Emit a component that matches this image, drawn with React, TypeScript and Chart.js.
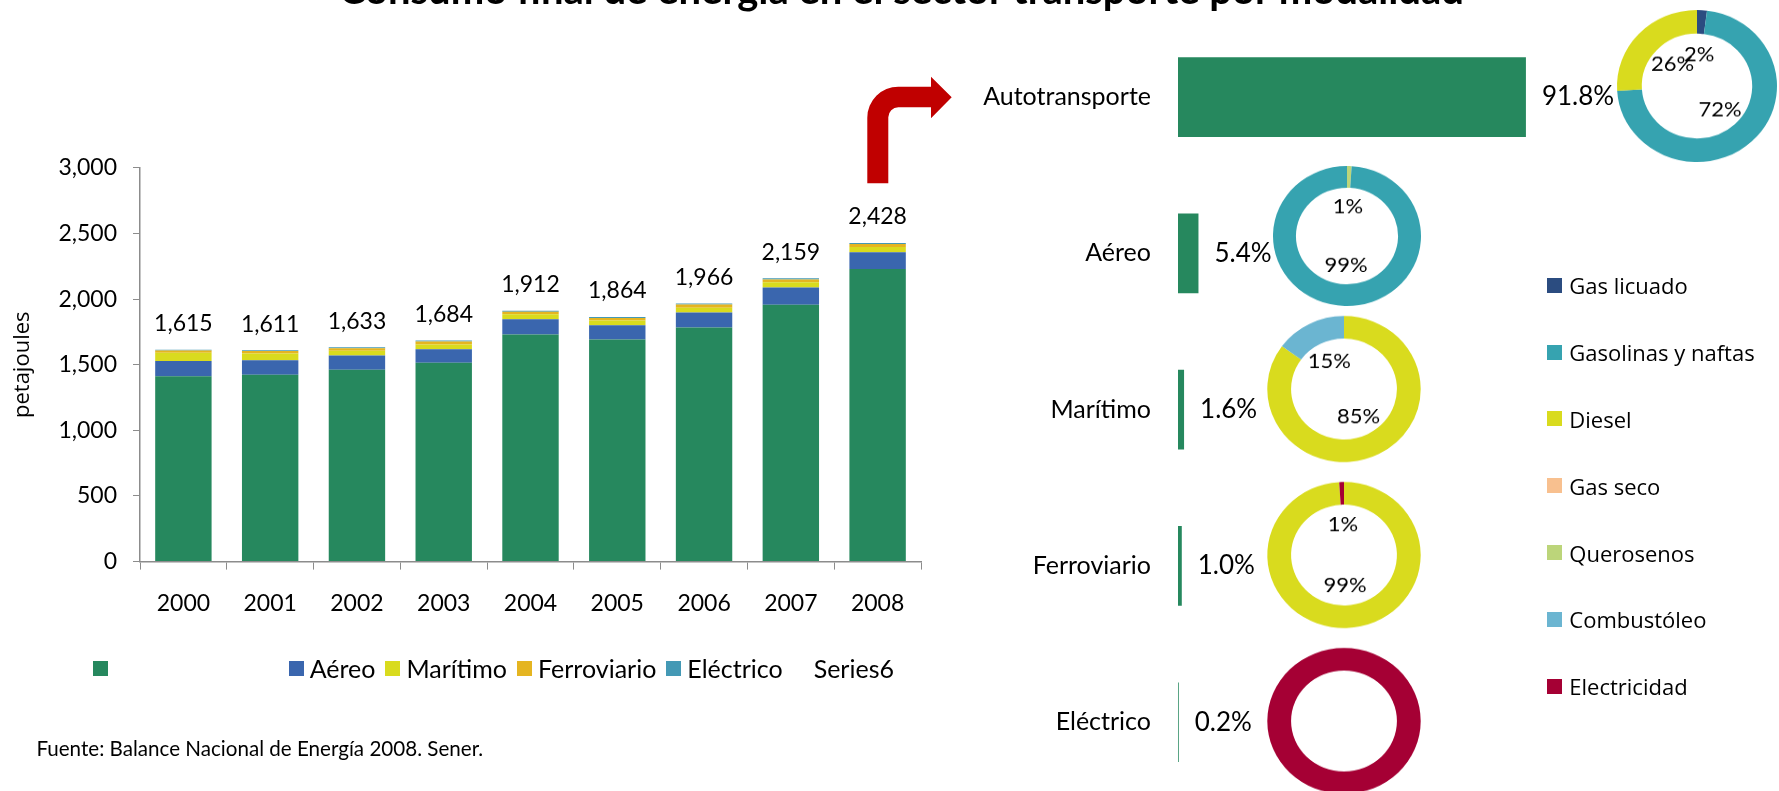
import React, { useEffect, useRef } from "react";
import { Chart, registerables } from "chart.js";

Chart.register(...registerables);
Chart.defaults.font.family = "Lato";

// ---------- Data ----------
const TITLE = "Consumo final de energía en el sector transporte por modalidad";
const SOURCE = "Fuente: Balance Nacional de Energía 2008. Sener.";
const Y_TITLE = "petajoules";

const years = ["2000", "2001", "2002", "2003", "2004", "2005", "2006", "2007", "2008"];
const autotransporte = [1412, 1424, 1462, 1515, 1730, 1692, 1783, 1957, 2229];
const aereo = [116, 111, 109, 104, 116, 109, 116, 131, 129];
const maritimo = [63, 51, 35, 35, 38, 37, 35, 41, 40];
const ferroviario = [17, 18, 20, 23, 20, 18, 26, 20, 23];
const electrico = [7, 7, 7, 7, 8, 8, 6, 10, 7];
const totales = [1615, 1611, 1633, 1684, 1912, 1864, 1966, 2159, 2428];
const yMax = 3000;
const yStep = 500;

const seriesNames = ["", "Aéreo", "Marítimo", "Ferroviario", "Eléctrico", "Series6"];
const seriesColors = ["#26885E", "#3A66AE", "#D9DB1E", "#E5B521", "#4499B5", "rgba(0,0,0,0)"];

const modalidades = ["Autotransporte", "Aéreo", "Marítimo", "Ferroviario", "Eléctrico"];
const participacion = [91.8, 5.4, 1.6, 1.0, 0.2];

const combustibles = ["Gas licuado", "Gasolinas y naftas", "Diesel", "Gas seco", "Querosenos", "Combustóleo", "Electricidad"];
const combustibleColors = ["#2B4C80", "#36A3B0", "#D9DB1E", "#F8C08F", "#BCD57A", "#6BB5D1", "#A50034"];

const autoFuels = ["Gas licuado", "Gasolinas y naftas", "Diesel"];
const autoShares = [2, 72, 26];
const aereoFuels = ["Querosenos", "Gasolinas y naftas"];
const aereoShares = [1, 99];
const maritimoFuels = ["Diesel", "Combustóleo"];
const maritimoShares = [85, 15];
const ferroFuels = ["Diesel", "Electricidad"];
const ferroShares = [99, 1];
const electricoFuels = ["Electricidad"];
const electricoShares = [100];

const AXIS = "#8c8c8c";

// ---------- Stacked bar chart ----------
function StackedBars() {
  const ref = useRef<HTMLCanvasElement>(null);
  useEffect(() => {
    const seriesData = [autotransporte, aereo, maritimo, ferroviario, electrico];
    const totalsPlugin = {
      id: "totalsLabels",
      afterDatasetsDraw(chart: any) {
        const idx = chart.data.datasets.findIndex((d: any) => d.label === "Series6");
        const meta = chart.getDatasetMeta(idx);
        const ctx = chart.ctx;
        ctx.save();
        ctx.font = "23px Lato";
        ctx.fillStyle = "#000";
        ctx.textAlign = "center";
        ctx.textBaseline = "middle";
        meta.data.forEach((pt: any, i: number) => {
          ctx.fillText(totales[i].toLocaleString("en-US"), pt.x, pt.y - 26);
        });
        ctx.restore();
      },
    };
    const chart = new Chart(ref.current!, {
      type: "bar",
      data: {
        labels: years,
        datasets: [
          ...seriesData.map((d, i) => ({
            type: "bar" as const,
            label: seriesNames[i],
            data: d,
            backgroundColor: seriesColors[i],
            borderWidth: 0,
            categoryPercentage: 0.65,
            barPercentage: 1,
            stack: "modos",
          })),
          {
            type: "line" as const,
            label: "Series6",
            data: totales,
            showLine: false,
            pointRadius: 0,
            borderWidth: 0,
            backgroundColor: seriesColors[5],
            borderColor: seriesColors[5],
            stack: "series6",
          },
        ] as any,
      },
      options: {
        animation: false,
        responsive: false,
        layout: { padding: { top: 37.9, right: 19, bottom: 0, left: 0 } },
        plugins: { legend: { display: false }, tooltip: { enabled: false } },
        scales: {
          x: {
            stacked: true,
            grid: { display: true, drawOnChartArea: false, drawTicks: true, tickLength: 8, color: AXIS, offset: true },
            border: { display: true, color: AXIS, width: 1.5 },
            ticks: { color: "#000", font: { family: "Lato", size: 23 }, padding: 20 },
            afterFit: (s: any) => { s.height = 68.4; },
          },
          y: {
            stacked: true,
            min: 0,
            max: yMax,
            ticks: {
              stepSize: yStep,
              color: "#000",
              font: { family: "Lato", size: 23 },
              padding: 16,
              callback: (v: any) => Number(v).toLocaleString("en-US"),
            },
            grid: { display: true, drawOnChartArea: false, drawTicks: true, tickLength: 7, color: AXIS },
            border: { display: true, color: AXIS, width: 1.5 },
            title: {
              display: true,
              text: Y_TITLE,
              color: "#000",
              font: { family: "Open Sans", size: 22 },
              padding: { top: 10, bottom: 0 },
            },
            afterFit: (s: any) => { s.width = 140; },
          },
        },
      } as any,
      plugins: [totalsPlugin],
    });
    return () => chart.destroy();
  }, []);
  return (
    <canvas
      ref={ref}
      width={940}
      height={500}
      style={{ position: "absolute", left: 0, top: 130, width: 940, height: 500 }}
    />
  );
}

// ---------- Share bar chart ----------
function ShareBars() {
  const ref = useRef<HTMLCanvasElement>(null);
  useEffect(() => {
    const valuePlugin = {
      id: "shareLabels",
      afterDatasetsDraw(chart: any) {
        const meta = chart.getDatasetMeta(0);
        const ctx = chart.ctx;
        ctx.save();
        ctx.font = "26px Lato";
        ctx.fillStyle = "#000";
        ctx.textAlign = "left";
        ctx.textBaseline = "middle";
        meta.data.forEach((bar: any, i: number) => {
          ctx.fillText(participacion[i].toFixed(1) + "%", bar.x + 16, bar.y);
        });
        ctx.restore();
      },
    };
    const chart = new Chart(ref.current!, {
      type: "bar",
      data: {
        labels: modalidades,
        datasets: [
          {
            label: "Participación",
            data: participacion,
            backgroundColor: seriesColors[0],
            borderWidth: 0,
            categoryPercentage: 0.51,
            barPercentage: 1,
          },
        ],
      },
      options: {
        indexAxis: "y",
        animation: false,
        responsive: false,
        layout: { padding: { top: 18.9, right: 103, bottom: 19.6, left: 0 } },
        plugins: { legend: { display: false }, tooltip: { enabled: false } },
        scales: {
          x: { display: false, min: 0, max: 100 },
          y: {
            grid: { display: true, drawOnChartArea: false, drawTicks: true, tickLength: 27, color: "rgba(0,0,0,0)" },
            border: { display: false },
            ticks: { color: "#000", font: { family: "Lato", size: 25 }, padding: 0 },
            afterFit: (s: any) => { s.width = 278; },
          },
        },
      } as any,
      plugins: [valuePlugin],
    });
    return () => chart.destroy();
  }, []);
  return (
    <canvas
      ref={ref}
      width={760}
      height={820}
      style={{ position: "absolute", left: 900, top: 0, width: 760, height: 820 }}
    />
  );
}

// ---------- Doughnuts ----------
type DonutProps = {
  names: string[];
  shares: number[];
  cx: number;
  cy: number;
  rx: number;
  ry: number;
  showLabels: boolean;
};

function Donut({ names, shares, cx, cy, rx, ry, showLabels }: DonutProps) {
  const ref = useRef<HTMLCanvasElement>(null);
  const size = Math.ceil(rx * 2 + 6);
  useEffect(() => {
    const labelPlugin = {
      id: "donutLabels",
      afterDatasetsDraw(chart: any) {
        if (!showLabels) return;
        const meta = chart.getDatasetMeta(0);
        const ctx = chart.ctx;
        ctx.save();
        ctx.font = "22px Lato";
        ctx.fillStyle = "#000";
        ctx.textAlign = "center";
        ctx.textBaseline = "middle";
        meta.data.forEach((arc: any, i: number) => {
          const mid = (arc.startAngle + arc.endAngle) / 2;
          const r = arc.outerRadius * 0.42;
          ctx.fillText(shares[i] + "%", arc.x + Math.cos(mid) * r, arc.y + Math.sin(mid) * r);
        });
        ctx.restore();
      },
    };
    const chart = new Chart(ref.current!, {
      type: "doughnut",
      data: {
        labels: names,
        datasets: [
          {
            data: shares,
            backgroundColor: names.map((n) => combustibleColors[combustibles.indexOf(n)]),
            borderWidth: 0,
            hoverOffset: 0,
            spacing: 0,
          },
        ],
      },
      options: {
        animation: false,
        responsive: false,
        radius: rx,
        cutout: "69%",
        layout: { padding: 0 },
        plugins: { legend: { display: false }, tooltip: { enabled: false } },
      } as any,
      plugins: [labelPlugin],
    });
    return () => chart.destroy();
  }, []);
  return (
    <canvas
      ref={ref}
      width={size}
      height={size}
      style={{
        position: "absolute",
        left: cx - size / 2,
        top: cy - size / 2,
        width: size,
        height: size,
        transform: `scaleY(${ry / rx})`,
      }}
    />
  );
}

// ---------- Arrow ----------
function Arrow() {
  return (
    <svg
      width={1779}
      height={791}
      style={{ position: "absolute", left: 0, top: 0, pointerEvents: "none" }}
    >
      <path
        d="M 867.3 183.3 L 867.3 117.7 A 31 31 0 0 1 898.3 86.7 L 931 86.7 L 931 76.7 L 951.7 97.3 L 931 118.3 L 931 107.3 L 898.3 107.3 A 10 10 0 0 0 888.3 117.3 L 888.3 183.3 Z"
        fill="#C00000"
      />
    </svg>
  );
}

export default function App() {
  return (
    <div
      style={{
        position: "fixed",
        left: 0,
        top: 0,
        width: 1779,
        height: 791,
        overflow: "hidden",
        background: "#fff",
        fontFamily: "Lato",
        color: "#000",
      }}
    >
      <StackedBars />
      <ShareBars />
      <Donut names={autoFuels} shares={autoShares} cx={1697} cy={86.3} rx={80} ry={76} showLabels={true} />
      <Donut names={aereoFuels} shares={aereoShares} cx={1346.5} cy={235.8} rx={74} ry={70} showLabels={true} />
      <Donut names={maritimoFuels} shares={maritimoShares} cx={1343.5} cy={388.7} rx={76.7} ry={73} showLabels={true} />
      <Donut names={ferroFuels} shares={ferroShares} cx={1343.5} cy={555.3} rx={76.7} ry={73} showLabels={true} />
      <Donut names={electricoFuels} shares={electricoShares} cx={1343.5} cy={720.7} rx={76.7} ry={73} showLabels={false} />
      <Arrow />

      {/* Title */}
      <div
        style={{
          position: "absolute",
          left: 901.5,
          top: -31,
          transform: "translateX(-50%)",
          whiteSpace: "nowrap",
          fontFamily: "Lato",
          fontWeight: 700,
          fontSize: 40,
          lineHeight: "40px",
        }}
      >
        {TITLE}
      </div>

      {/* Bar chart legend */}
      <div
        style={{
          position: "absolute",
          left: 92.7,
          top: 668.3,
          transform: "translateY(-50%)",
          display: "flex",
          alignItems: "center",
          whiteSpace: "nowrap",
          fontFamily: "Lato",
          fontSize: 25,
          lineHeight: "28px",
        }}
      >
        {seriesNames.map((n, i) => (
          <div key={i} style={{ display: "flex", alignItems: "center", marginRight: 10 }}>
            <span style={{ display: "inline-block", width: 15, height: 15, background: seriesColors[i], marginRight: 6 }} />
            <span style={{ display: "inline-block", minWidth: n === "" ? 165 : 0 }}>{n}</span>
          </div>
        ))}
      </div>

      {/* Fuel legend */}
      {combustibles.map((n, i) => (
        <div
          key={n}
          style={{
            position: "absolute",
            left: 1547.3,
            top: 285.3 + i * 66.8,
            transform: "translateY(-50%)",
            display: "flex",
            alignItems: "center",
            whiteSpace: "nowrap",
            fontFamily: "Open Sans",
            fontSize: 22,
            lineHeight: "28px",
          }}
        >
          <span style={{ display: "inline-block", width: 15, height: 15, background: combustibleColors[i], marginRight: 7 }} />
          <span>{n}</span>
        </div>
      ))}

      {/* Source */}
      <div
        style={{
          position: "absolute",
          left: 36.4,
          top: 748,
          transform: "translateY(-50%)",
          whiteSpace: "nowrap",
          fontFamily: "Lato",
          fontSize: 20.6,
          lineHeight: "24px",
        }}
      >
        {SOURCE}
      </div>
    </div>
  );
}
